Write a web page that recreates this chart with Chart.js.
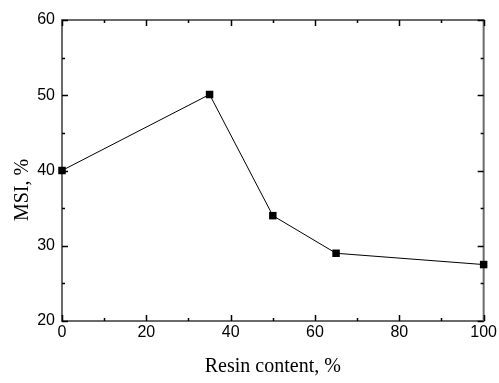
<!DOCTYPE html>
<html><head><meta charset="utf-8">
<script src="https://cdn.jsdelivr.net/npm/chart.js@4"></script>
<style>html,body{margin:0;padding:0;background:#fff}</style>
</head><body>
<canvas id="c" width="499" height="383"></canvas>
<script>
const resinContent = [0, 35, 50, 65, 100];
const msiValues = [40, 50.1, 34, 29, 27.5];
const xTicks = [0, 20, 40, 60, 80, 100];
const xMinorTicks = [10, 30, 50, 70, 90];
const yTicks = [20, 30, 40, 50, 60];
const yMinorTicks = [25, 35, 45, 55];
const xTitle = 'Resin content, %';
const yTitle = 'MSI, %';

const points = resinContent.map((v, i) => ({x: v, y: msiValues[i]}));

const framePlugin = {
  id: 'frame',
  beforeDatasetsDraw(chart) {
    const {ctx, chartArea: {left, right, top, bottom}, scales: {x, y}} = chart;
    ctx.save();
    ctx.strokeStyle = '#6a6a6a';
    ctx.lineWidth = 2;
    ctx.strokeRect(left, top, right - left, bottom - top);
    ctx.strokeStyle = '#000';
    ctx.lineWidth = 1.5;
    const tx = (vals, len) => vals.forEach(v => {
      const p = Math.round(x.getPixelForValue(v)) + 0.5;
      ctx.beginPath();
      ctx.moveTo(p, bottom); ctx.lineTo(p, bottom - len);
      ctx.moveTo(p, top); ctx.lineTo(p, top + len);
      ctx.stroke();
    });
    const ty = (vals, len) => vals.forEach(v => {
      const p = Math.round(y.getPixelForValue(v)) + 0.5;
      ctx.beginPath();
      ctx.moveTo(left, p); ctx.lineTo(left + len, p);
      ctx.moveTo(right, p); ctx.lineTo(right - len, p);
      ctx.stroke();
    });
    tx(xTicks, 6); tx(xMinorTicks, 3);
    ty(yTicks, 6); ty(yMinorTicks, 3);
    ctx.restore();
  },
  afterDraw(chart) {
    const {ctx, chartArea: {top, bottom}} = chart;
    ctx.save();
    ctx.font = '20px "Liberation Serif"';
    ctx.fillStyle = '#000';
    ctx.textAlign = 'center';
    ctx.textBaseline = 'middle';
    ctx.translate(23, 190);
    ctx.rotate(-Math.PI / 2);
    ctx.fillText(yTitle, 0, 0);
    ctx.restore();
  }
};

new Chart(document.getElementById('c'), {
  type: 'scatter',
  data: {
    datasets: [{
      data: points,
      showLine: true,
      borderColor: '#000',
      borderWidth: 1,
      pointStyle: 'rect',
      pointRadius: 5.3,
      pointHoverRadius: 5.3,
      pointBackgroundColor: '#000',
      pointBorderColor: '#000',
      pointBorderWidth: 0,
      clip: false
    }]
  },
  options: {
    responsive: false,
    devicePixelRatio: 1,
    animation: false,
    layout: {padding: {top: 20, right: 15, left: 0, bottom: 0}},
    plugins: {legend: {display: false}, tooltip: {enabled: false}},
    scales: {
      x: {
        type: 'linear', min: 0, max: 100,
        afterBuildTicks: s => { s.ticks = xTicks.map(v => ({value: v})); },
        afterFit: s => { s.height = 62; },
        grid: {display: true, drawOnChartArea: false, drawTicks: false},
        border: {display: false},
        ticks: {color: '#000', padding: 2, font: {family: '"Liberation Sans"', size: 16}},
        title: {display: true, text: xTitle, color: '#000', padding: {top: 0, bottom: 4},
                font: {family: '"Liberation Serif"', size: 20}}
      },
      y: {
        type: 'linear', min: 20, max: 60,
        afterBuildTicks: s => { s.ticks = yTicks.map(v => ({value: v})); },
        afterFit: s => { s.width = 62; },
        grid: {display: true, drawOnChartArea: false, drawTicks: false},
        border: {display: false},
        ticks: {color: '#000', padding: 7, font: {family: '"Liberation Sans"', size: 16}},
        title: {display: false}
      }
    }
  },
  plugins: [framePlugin]
});
</script>
</body></html>
